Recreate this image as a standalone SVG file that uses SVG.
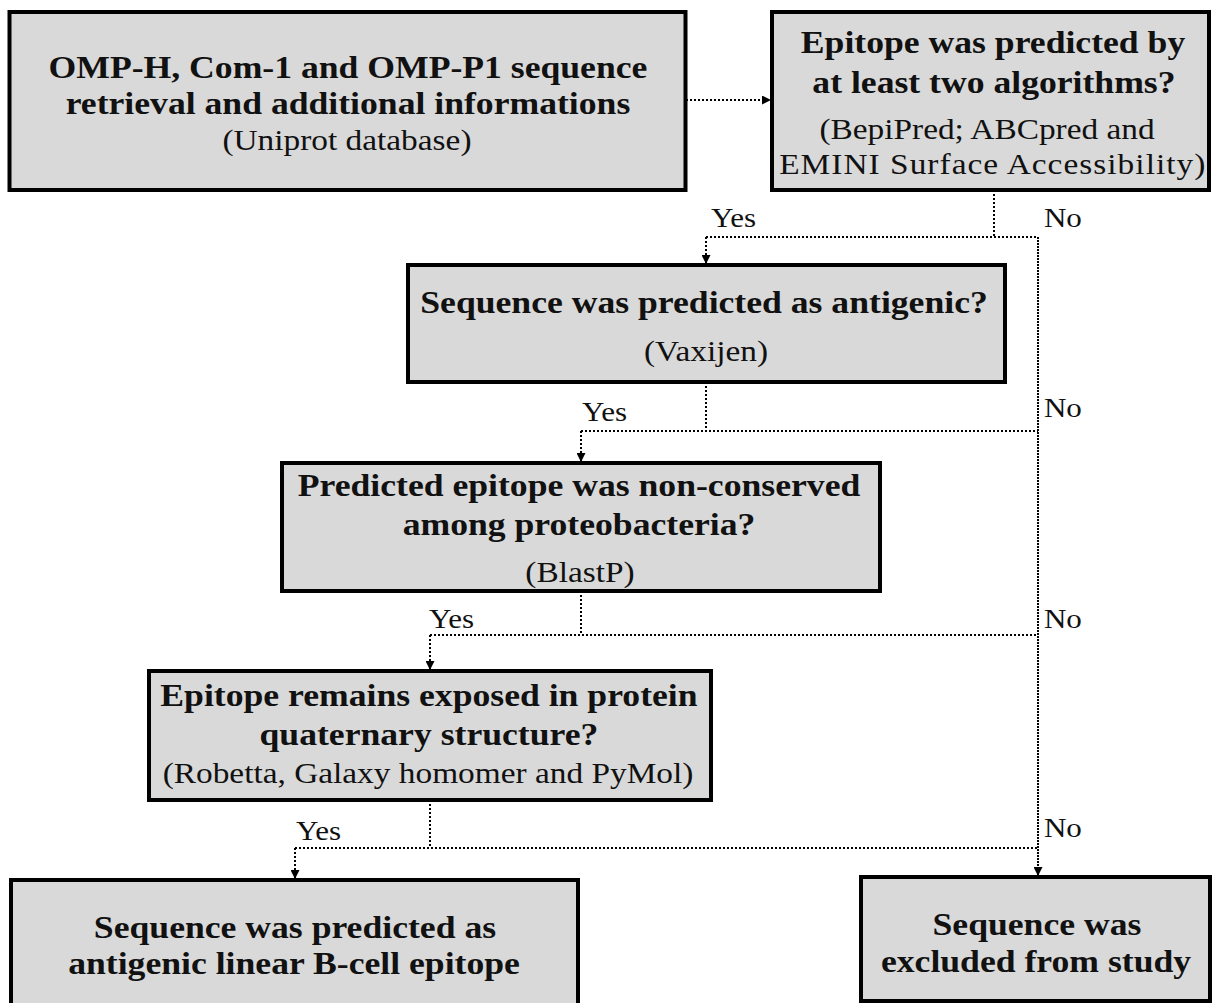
<svg xmlns="http://www.w3.org/2000/svg" width="1212" height="1003" viewBox="0 0 1212 1003">
<defs>
<marker id="arr" viewBox="0 0 10 10" refX="10" refY="5" markerWidth="9" markerHeight="9" markerUnits="userSpaceOnUse" orient="auto">
<path d="M0,0 L10,5 L0,10 z" fill="#000"/>
</marker>
<style>
.f{font-family:'Liberation Serif'}
.box{fill:#d9d9d9;stroke:#000;stroke-width:4}
.t{fill:#111;text-anchor:middle}
.b{font-size:31px;font-weight:bold}
.r{font-size:29px}
.lab{fill:#111;font-size:27px}
.dot{fill:none;stroke:#000;stroke-width:2;stroke-dasharray:2 2}
.main{fill:none;stroke:#000;stroke-width:2;stroke-dasharray:2 1}
</style>
</defs>
<rect width="1212" height="1003" fill="#fff"/>

<g id="connectors" class="f">
<path class="dot" d="M686,100 H771" marker-end="url(#arr)"/>
<path class="dot" d="M994,190 V237"/>
<path class="dot" d="M706,237 H1038"/>
<path class="dot" d="M706,237 V264" marker-end="url(#arr)"/>
<path class="dot" d="M706,382 V431"/>
<path class="dot" d="M581,431 H1038"/>
<path class="dot" d="M581,431 V462" marker-end="url(#arr)"/>
<path class="dot" d="M581,591 V635"/>
<path class="dot" d="M430,635 H1038"/>
<path class="dot" d="M430,635 V670" marker-end="url(#arr)"/>
<path class="dot" d="M430,800 V848"/>
<path class="dot" d="M295,848 H1038"/>
<path class="dot" d="M295,848 V879" marker-end="url(#arr)"/>
<path class="main" d="M1038,237 V876" marker-end="url(#arr)"/>
<g transform="scale(1.15 1)">
<text class="lab" x="618.3" y="227">Yes</text>
<text class="lab" x="907.8" y="227">No</text>
<text class="lab" x="506.1" y="421">Yes</text>
<text class="lab" x="907.8" y="417">No</text>
<text class="lab" x="373" y="628">Yes</text>
<text class="lab" x="907.8" y="628">No</text>
<text class="lab" x="257.4" y="840">Yes</text>
<text class="lab" x="907.8" y="837">No</text>
</g>
</g>

<g id="node-retrieval" class="f">
<rect class="box" x="9.5" y="12" width="676" height="178"/>
<g transform="scale(1.15 1)">
<text class="t b" x="302.6" y="78">OMP-H, Com-1 and OMP-P1 sequence</text>
<text class="t b" x="302.6" y="114">retrieval and additional informations</text>
<text class="t r" x="301.7" y="150">(Uniprot database)</text>
</g>
</g>

<g id="node-algorithms" class="f">
<rect class="box" x="772" y="12" width="437" height="178"/>
<g transform="scale(1.15 1)">
<text class="t b" x="863.5" y="53">Epitope was predicted by</text>
<text class="t b" x="864.3" y="93">at least two algorithms?</text>
<text class="t r" x="858.3" y="139">(BepiPred; ABCpred and</text>
<text class="t r" x="863.3" y="174" letter-spacing="0.9">EMINI Surface Accessibility)</text>
</g>
</g>

<g id="node-antigenic" class="f">
<rect class="box" x="408" y="265" width="597" height="117"/>
<g transform="scale(1.15 1)">
<text class="t b" x="612.2" y="313">Sequence was predicted as antigenic?</text>
<text class="t r" x="613.9" y="361">(Vaxijen)</text>
</g>
</g>

<g id="node-conserved" class="f">
<rect class="box" x="282" y="463" width="598" height="128"/>
<g transform="scale(1.15 1)">
<text class="t b" x="503.5" y="496">Predicted epitope was non-conserved</text>
<text class="t b" x="503.5" y="535">among proteobacteria?</text>
<text class="t r" x="504.3" y="582">(BlastP)</text>
</g>
</g>

<g id="node-exposed" class="f">
<rect class="box" x="149" y="671" width="562" height="129"/>
<g transform="scale(1.15 1)">
<text class="t b" x="373" y="706">Epitope remains exposed in protein</text>
<text class="t b" x="373" y="745">quaternary structure?</text>
<text class="t r" x="372.2" y="783">(Robetta, Galaxy homomer and PyMol)</text>
</g>
</g>

<g id="node-epitope" class="f">
<rect class="box" x="11" y="880" width="567" height="130"/>
<g transform="scale(1.15 1)">
<text class="t b" x="256.5" y="938">Sequence was predicted as</text>
<text class="t b" x="255.7" y="974">antigenic linear B-cell epitope</text>
</g>
</g>

<g id="node-excluded" class="f">
<rect class="box" x="861" y="877" width="349" height="124"/>
<g transform="scale(1.15 1)">
<text class="t b" x="901.7" y="935">Sequence was</text>
<text class="t b" x="900.9" y="972">excluded from study</text>
</g>
</g>
</svg>
